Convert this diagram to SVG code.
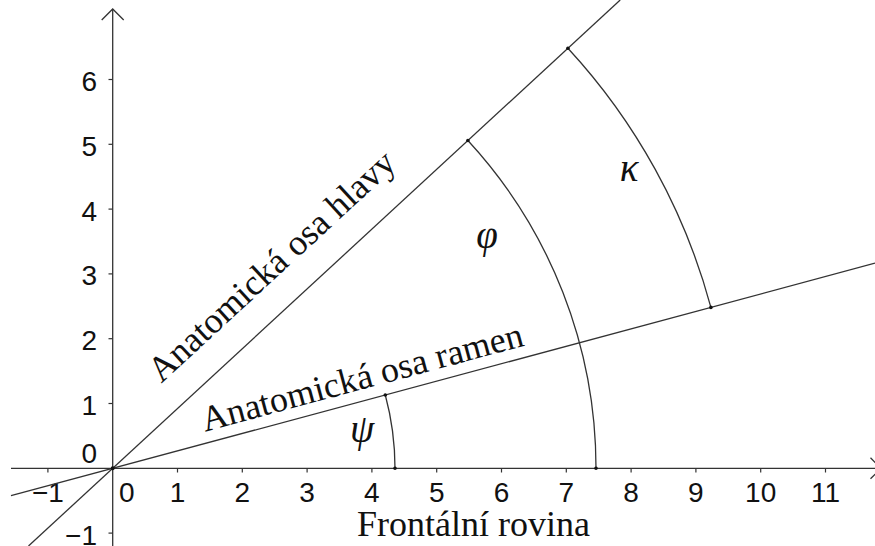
<svg xmlns="http://www.w3.org/2000/svg" width="875" height="546" viewBox="0 0 875 546">
<style>
.ln{stroke:#333;stroke-width:1.3;fill:none}
.ax{stroke:#333;stroke-width:1.3;fill:none}
.tk{stroke:#333;stroke-width:1.2}
.num{font-family:"Liberation Sans",Arial,sans-serif;font-size:28px;fill:#111}
.lbl{font-family:"Liberation Serif","Times New Roman",serif;font-size:36px;fill:#111}
.gr{font-family:"Liberation Serif","Times New Roman",serif;font-style:italic;font-size:39px;fill:#111}
.dot{fill:#111}
</style>
<rect width="875" height="546" fill="#fff"/>
<g id="axes">
<line class="ax" x1="11" y1="468.3" x2="881" y2="468.3"/>
<polyline class="ax" points="870.5,457.8 881,468.3 870.5,478.8"/>
<line class="ax" x1="112.7" y1="546" x2="112.7" y2="9"/>
<polyline class="ax" points="101.7,20 112.7,9 123.7,20"/>
<g id="xticks">
<line class="tk" x1="47.9" y1="468.3" x2="47.9" y2="472.5"/>
<line class="tk" x1="177.5" y1="468.3" x2="177.5" y2="472.5"/>
<line class="tk" x1="242.3" y1="468.3" x2="242.3" y2="472.5"/>
<line class="tk" x1="307.1" y1="468.3" x2="307.1" y2="472.5"/>
<line class="tk" x1="371.9" y1="468.3" x2="371.9" y2="472.5"/>
<line class="tk" x1="436.7" y1="468.3" x2="436.7" y2="472.5"/>
<line class="tk" x1="501.5" y1="468.3" x2="501.5" y2="472.5"/>
<line class="tk" x1="566.3" y1="468.3" x2="566.3" y2="472.5"/>
<line class="tk" x1="631.1" y1="468.3" x2="631.1" y2="472.5"/>
<line class="tk" x1="695.9" y1="468.3" x2="695.9" y2="472.5"/>
<line class="tk" x1="760.7" y1="468.3" x2="760.7" y2="472.5"/>
<line class="tk" x1="825.5" y1="468.3" x2="825.5" y2="472.5"/>
</g>
<g id="yticks">
<line class="tk" x1="108.5" y1="533.1" x2="112.7" y2="533.1"/>
<line class="tk" x1="108.5" y1="403.5" x2="112.7" y2="403.5"/>
<line class="tk" x1="108.5" y1="338.7" x2="112.7" y2="338.7"/>
<line class="tk" x1="108.5" y1="273.9" x2="112.7" y2="273.9"/>
<line class="tk" x1="108.5" y1="209.1" x2="112.7" y2="209.1"/>
<line class="tk" x1="108.5" y1="144.3" x2="112.7" y2="144.3"/>
<line class="tk" x1="108.5" y1="79.5" x2="112.7" y2="79.5"/>
</g>
<g id="xlabels" class="num" text-anchor="middle">
<text x="47.9" y="501.7">−1</text>
<text x="126.7" y="501.7">0</text>
<text x="177.5" y="501.7">1</text>
<text x="242.3" y="501.7">2</text>
<text x="307.1" y="501.7">3</text>
<text x="371.9" y="501.7">4</text>
<text x="436.7" y="501.7">5</text>
<text x="501.5" y="501.7">6</text>
<text x="566.3" y="501.7">7</text>
<text x="631.1" y="501.7">8</text>
<text x="695.9" y="501.7">9</text>
<text x="760.7" y="501.7">10</text>
<text x="825.5" y="501.7">11</text>
</g>
<g id="ylabels" class="num" text-anchor="end">
<text x="97" y="545">−1</text>
<text x="97" y="462.7">0</text>
<text x="97" y="415">1</text>
<text x="97" y="350.2">2</text>
<text x="97" y="285.4">3</text>
<text x="97" y="220.6">4</text>
<text x="97" y="155.8">5</text>
<text x="97" y="91">6</text>
</g>
</g>
<g id="connectors">
<line id="head-line" class="ln" x1="28.5" y1="546" x2="620.2" y2="0"/>
<line id="shoulder-line" class="ln" x1="11" y1="495.7" x2="875" y2="263.2"/>
<path id="arc-psi" class="ln" d="M395,468.3 A282.3,282.3 0 0 0 385.3,395"/>
<path id="arc-phi" class="ln" d="M596,468.3 A483.3,483.3 0 0 0 467.9,140.5"/>
<path id="arc-kappa" class="ln" d="M710.9,307.4 A619.4,619.4 0 0 0 567.9,48.2"/>
</g>
<g id="points">
<circle class="dot" cx="112.7" cy="468.3" r="2"/>
<circle class="dot" cx="395" cy="468.3" r="1.8"/>
<circle class="dot" cx="385.3" cy="395" r="1.8"/>
<circle class="dot" cx="596" cy="468.3" r="1.8"/>
<circle class="dot" cx="467.9" cy="140.5" r="1.8"/>
<circle class="dot" cx="710.9" cy="307.4" r="1.8"/>
<circle class="dot" cx="567.9" cy="48.2" r="1.8"/>
</g>
<g id="label-head">
<text class="lbl" transform="translate(112.7,468.3) rotate(-42.7)" x="93" y="-29.2">Anatomická osa hlavy</text>
</g>
<g id="label-shoulder">
<text class="lbl" transform="translate(112.7,468.3) rotate(-15.06)" x="98.6" y="-11.4">Anatomická osa ramen</text>
</g>
<g id="label-frontal">
<text class="lbl" x="357" y="536">Frontální rovina</text>
</g>
<g id="label-angles" class="gr" text-anchor="middle">
<text x="362" y="442">ψ</text>
<text x="487" y="248">φ</text>
<text x="629" y="181">κ</text>
</g>
</svg>
